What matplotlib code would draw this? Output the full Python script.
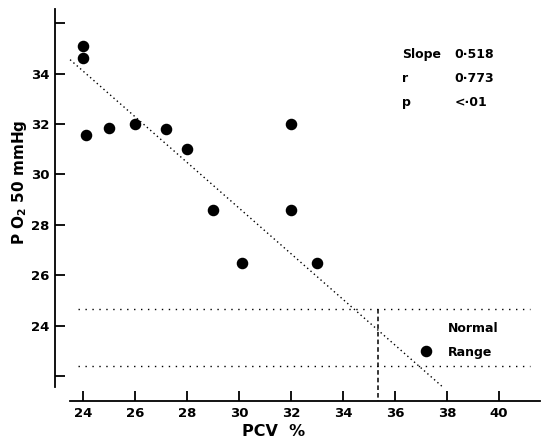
import matplotlib
matplotlib.use("Agg")
import matplotlib.pyplot as plt
import numpy as np

# patient points: PCV % vs P O2 50
pcv = [24.0, 24.0, 24.1, 25.0, 26.0, 27.2, 28.0, 29.0, 30.1, 32.0, 32.0, 33.0]
p50 = [35.1, 34.6, 31.55, 31.85, 32.0, 31.8, 31.0, 28.6, 26.5, 32.0, 28.6, 26.5]

# normal subject point
normal_pcv = [37.2]
normal_p50 = [23.0]

# regression line end points as drawn
fit_x = [23.5, 37.8]
fit_y = [34.55, 21.6]

# normal range band
range_lo, range_hi = 22.4, 24.65
range_x = [23.8, 41.2]
normal_pcv_line = 35.35

xticks = [24, 26, 28, 30, 32, 34, 36, 38, 40]
yticks = [22, 24, 26, 28, 30, 32, 34, 36]
ytick_labels = ["", "24", "26", "28", "30", "32", "34", ""]

stats = [("Slope", "0·518"), ("r", "0·773"), ("p", "<·01")]
stats_y = [34.75, 33.8, 32.85]

fig = plt.figure(figsize=(5.42, 4.46), dpi=100)
ax = fig.add_axes([55 / 542, 45 / 446, 485 / 542, 392 / 446])

ax.plot(pcv, p50, "o", color="black", markersize=7.3)
ax.plot(normal_pcv, normal_p50, "o", color="black", markersize=7.3)
ax.plot(fit_x, fit_y, color="black", linestyle=(0, (1, 2.2)), linewidth=1.0)
for yv in (range_lo, range_hi):
    ax.plot(range_x, [yv, yv], color="black", linestyle=(0, (1, 4)), linewidth=1.0)
ax.plot([normal_pcv_line, normal_pcv_line], [range_hi, 21.01], color="black",
        linestyle=(0, (3, 2)), linewidth=1.1)

ax.set_xlim(22.92, 41.58)
ax.set_ylim(21.01, 36.56)

for s in ("top", "right"):
    ax.spines[s].set_visible(False)
ax.spines["left"].set_bounds(21.56, 36.56)
ax.spines["bottom"].set_bounds(23.5, 41.58)
ax.spines["left"].set_linewidth(1.3)
ax.spines["bottom"].set_linewidth(1.3)

ax.set_xticks(xticks)
ax.set_xticklabels([str(t) for t in xticks])
ax.set_yticks(yticks)
ax.set_yticklabels(ytick_labels)
ax.tick_params(direction="in", length=7, width=1.3, labelsize=9.5, pad=4)
for lab in ax.get_xticklabels() + ax.get_yticklabels():
    lab.set_fontweight("bold")

ax.text(-0.074, 0.559, "P O$_\\mathbf{2}$ 50 mmHg", transform=ax.transAxes,
        rotation=90, ha="center", va="center", fontsize=11, fontweight="bold")
ax.text(0.45, -0.079, "PCV  %", transform=ax.transAxes, ha="center",
        va="center", fontsize=11.5, fontweight="bold")

for (name, val), yv in zip(stats, stats_y):
    ax.text(36.27, yv, name, ha="left", va="center", fontsize=9, fontweight="bold")
    ax.text(38.3, yv, val, ha="left", va="center", fontsize=9, fontweight="bold")

ax.text(38.04, 23.87, "Normal", ha="left", va="center", fontsize=9, fontweight="bold")
ax.text(38.04, 22.95, "Range", ha="left", va="center", fontsize=9, fontweight="bold")

fig.savefig("out.png", dpi=100)
